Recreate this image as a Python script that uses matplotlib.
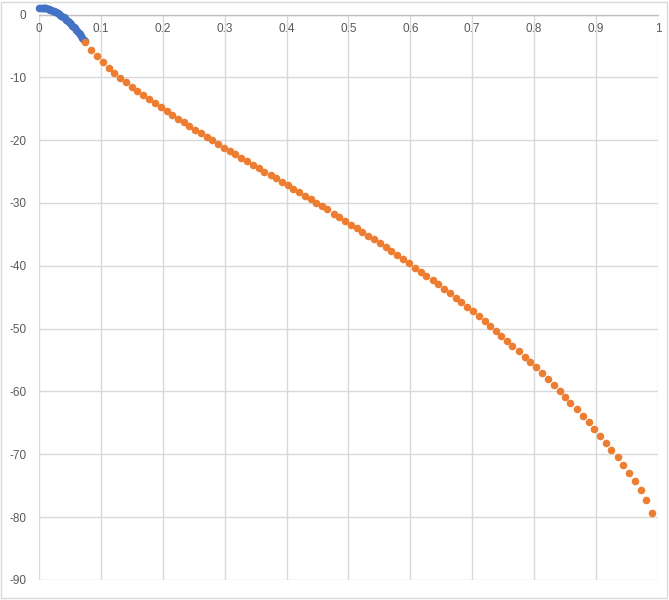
import matplotlib
matplotlib.use("Agg")
from matplotlib import pyplot as plt
from matplotlib.patches import Rectangle

plt.rcParams['font.family'] = ['Liberation Sans', 'DejaVu Sans']

# blue series: dense run near the origin
x_blue = [0.000, 0.002, 0.004, 0.006, 0.008, 0.010, 0.012, 0.014, 0.016, 0.018,
          0.020, 0.022, 0.024, 0.026, 0.028, 0.030, 0.032, 0.034, 0.036, 0.038,
          0.040, 0.042, 0.044, 0.046, 0.048, 0.050, 0.052, 0.054, 0.056, 0.058,
          0.060, 0.062, 0.064, 0.066, 0.068, 0.070, 0.072, 0.074]
y_blue = [1.10, 1.10, 1.08, 1.06, 1.04, 1.00, 0.96, 0.91, 0.85, 0.78,
          0.71, 0.63, 0.54, 0.44, 0.33, 0.22, 0.10, -0.03, -0.17, -0.32,
          -0.47, -0.63, -0.80, -0.97, -1.16, -1.35, -1.55, -1.76, -1.97, -2.20,
          -2.43, -2.67, -2.91, -3.17, -3.43, -3.70, -3.98, -4.27]

# orange series
x_orange = [0.074, 0.084, 0.093, 0.103, 0.113, 0.121, 0.131, 0.140, 0.150, 0.159,
            0.168, 0.178, 0.187, 0.197, 0.206, 0.215, 0.225, 0.234, 0.243, 0.252,
            0.262, 0.271, 0.280, 0.289, 0.299, 0.308, 0.317, 0.326, 0.336, 0.346,
            0.355, 0.364, 0.374, 0.383, 0.392, 0.402, 0.411, 0.420, 0.430, 0.439,
            0.448, 0.457, 0.466, 0.476, 0.485, 0.494, 0.504, 0.513, 0.522, 0.532,
            0.541, 0.551, 0.560, 0.569, 0.579, 0.588, 0.597, 0.608, 0.617, 0.626,
            0.636, 0.645, 0.654, 0.664, 0.673, 0.682, 0.692, 0.701, 0.711, 0.720,
            0.729, 0.738, 0.747, 0.756, 0.765, 0.776, 0.785, 0.794, 0.803, 0.813,
            0.822, 0.832, 0.841, 0.850, 0.858, 0.869, 0.879, 0.888, 0.897, 0.907,
            0.916, 0.925, 0.935, 0.944, 0.953, 0.963, 0.972, 0.981, 0.991]
y_orange = [-4.33, -5.60, -6.65, -7.61, -8.47, -9.31, -10.06, -10.79, -11.54, -12.18,
            -12.81, -13.45, -14.09, -14.72, -15.36, -16.04, -16.63, -17.16, -17.75, -18.34,
            -18.86, -19.45, -20.02, -20.61, -21.20, -21.73, -22.25, -22.79, -23.32, -23.95,
            -24.48, -25.02, -25.55, -26.07, -26.61, -27.18, -27.73, -28.30, -28.84, -29.36,
            -29.95, -30.48, -31.00, -31.70, -32.28, -32.87, -33.46, -34.03, -34.62, -35.21,
            -35.78, -36.42, -37.05, -37.64, -38.28, -38.91, -39.60, -40.30, -40.94, -41.62,
            -42.26, -42.94, -43.64, -44.32, -45.07, -45.81, -46.51, -47.24, -47.99, -48.74,
            -49.58, -50.37, -51.12, -51.92, -52.81, -53.61, -54.47, -55.31, -56.15, -57.06,
            -57.97, -58.92, -59.88, -60.83, -61.88, -62.79, -63.86, -64.81, -65.92, -67.04,
            -68.20, -69.27, -70.48, -71.65, -72.93, -74.25, -75.63, -77.22, -79.39]

x_ticks = [0, 0.1, 0.2, 0.3, 0.4, 0.5, 0.6, 0.7, 0.8, 0.9, 1]
x_labels = ["0", "0.1", "0.2", "0.3", "0.4", "0.5", "0.6", "0.7", "0.8", "0.9", "1"]
y_ticks = [0, -10, -20, -30, -40, -50, -60, -70, -80, -90]

fig = plt.figure(figsize=(6.69, 6.0), dpi=100)
ax = fig.add_axes([0.0584, 0.0335, 0.925, 0.9423])

grid_c = "#d9d9d9"
text_c = "#595959"

ax.set_xlim(0, 1)
ax.set_ylim(-90, 0)
ax.set_xticks(x_ticks)
ax.set_xticklabels(x_labels)
ax.set_yticks(y_ticks)
ax.set_yticklabels([str(v) for v in y_ticks])
ax.grid(True, color=grid_c, linewidth=1)
ax.set_axisbelow(True)

for s in ["top", "right", "left"]:
    ax.spines[s].set_visible(False)
ax.spines["bottom"].set_position(("data", 0))
ax.spines["bottom"].set_color("#bfbfbf")
ax.spines["bottom"].set_linewidth(1)

ax.tick_params(axis="x", length=0, pad=6, labelsize=8.5, labelcolor=text_c)
ax.tick_params(axis="y", length=0, pad=9, labelsize=8.5, labelcolor=text_c)

ax.scatter(x_blue, y_blue, s=30, color="#4472C4", zorder=3, clip_on=False,
           linewidths=0)
ax.scatter(x_orange, y_orange, s=30, color="#ED7D31", zorder=4, clip_on=False,
           linewidths=0)

# chart border
fig.patches.append(Rectangle((0.002, 0.003), 0.995, 0.994, transform=fig.transFigure,
                             fill=False, edgecolor=grid_c, linewidth=1))

fig.savefig("out.png", dpi=100)
